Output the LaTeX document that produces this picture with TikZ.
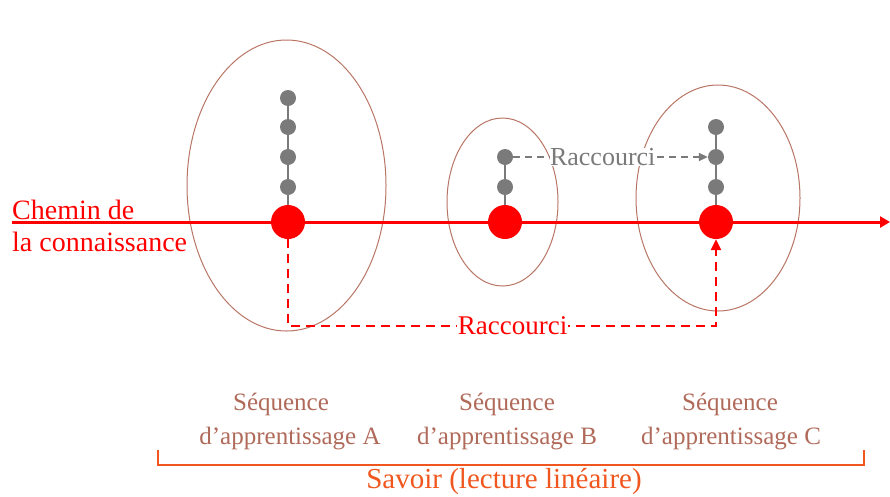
\documentclass[tikz,border=0pt]{standalone}
\usepackage{fontspec}
\setmainfont{Liberation Serif}
\usetikzlibrary{arrows.meta,shapes.geometric}
\definecolor{ellcol}{HTML}{B87565}
\definecolor{seqcol}{HTML}{B06A5A}
\definecolor{savcol}{HTML}{F0561E}
\definecolor{dotgray}{HTML}{7A7A7A}
\tikzset{
  bigdot/.style={circle,fill=red,inner sep=0pt,minimum size=34pt},
  smalldot/.style={circle,fill=dotgray,inner sep=0pt,minimum size=16pt},
  seqell/.style={draw=ellcol,line width=1pt},
  redline/.style={red,line width=3pt},
  reddash/.style={red,line width=2.4pt,dash pattern=on 9pt off 6pt},
  graydash/.style={dotgray,line width=1.8pt,dash pattern=on 7pt off 5pt},
  stem/.style={dotgray,line width=2pt},
  seqlabel/.style={text=seqcol,align=center,font=\fontsize{25}{34}\selectfont,inner sep=0pt},
}
\begin{document}
\begin{tikzpicture}[x=1pt,y=-1pt]
\useasboundingbox (0,0) rectangle (890,496);
% ellipses
\draw[seqell] (286.5,185.5) ellipse [x radius=99.5,y radius=145.5];
\draw[seqell] (502.5,202) ellipse [x radius=55.5,y radius=84];
\draw[seqell] (718,198) ellipse [x radius=82,y radius=113];
% main line
\coordinate (start) at (12,222);
\coordinate (end) at (890,222);
\draw[redline,-{Triangle[length=10pt,width=11pt]}] (start) -- (end);
% stems
\coordinate (a0) at (288,98);
\coordinate (b0) at (505,157);
\coordinate (c0) at (716,127);
\draw[stem] (a0) -- (288,222);
\draw[stem] (b0) -- (505,222);
\draw[stem] (c0) -- (716,222);
% small dots
\node[smalldot] (a1) at (288,98) {};
\node[smalldot] (a2) at (288,127) {};
\node[smalldot] (a3) at (288,157) {};
\node[smalldot] (a4) at (288,187) {};
\node[smalldot] (b1) at (505,157) {};
\node[smalldot] (b2) at (505,187) {};
\node[smalldot] (c1) at (716,127) {};
\node[smalldot] (c2) at (716,157) {};
\node[smalldot] (c3) at (716,187) {};
% big dots
\node[bigdot] (A) at (288,222) {};
\node[bigdot] (B) at (505,222) {};
\node[bigdot] (C) at (716,222) {};
% gray shortcut
\draw[graydash,-{Triangle[length=9pt,width=8pt]}] (b1) -- node[pos=0.46,fill=white,inner sep=0pt,text=dotgray,font=\fontsize{26}{30}\selectfont] {Raccourci} (c2);
% red shortcut
\coordinate (rA) at (288,326);
\coordinate (rC) at (716,326);
\draw[reddash,-{Triangle[length=11pt,width=10pt]}] (A.south) -- (rA) -- node[pos=0.525,fill=white,inner sep=1pt,text=red,font=\fontsize{27}{30}\selectfont] {Raccourci} (rC) -- (C.south);
% chemin text
\node[anchor=base west,text=red,font=\fontsize{28}{30}\selectfont,inner sep=0pt] (ch1) at (12,219) {Chemin de};
\node[anchor=base west,text=red,font=\fontsize{28}{30}\selectfont,inner sep=0pt] (ch2) at (12,251) {la connaissance};
% sequence labels
\node[seqlabel,anchor=base] (sA) at (281,410) {Séquence};
\node[seqlabel,anchor=base] (sA2) at (290,444) {d’apprentissage A};
\node[seqlabel,anchor=base] (sB) at (507,410) {Séquence};
\node[seqlabel,anchor=base] (sB2) at (507,444) {d’apprentissage B};
\node[seqlabel,anchor=base] (sC) at (730,410) {Séquence};
\node[seqlabel,anchor=base] (sC2) at (731,444) {d’apprentissage C};
% bracket
\coordinate (bl) at (158,450);
\coordinate (br) at (864,450);
\draw[savcol,line width=1.6pt] (bl) -- (158,465) -- (864,465) -- (br);
\node[anchor=base,text=savcol,font=\fontsize{29}{30}\selectfont,inner sep=0pt] (sav) at (504,488) {Savoir (lecture linéaire)};
\end{tikzpicture}
\end{document}
